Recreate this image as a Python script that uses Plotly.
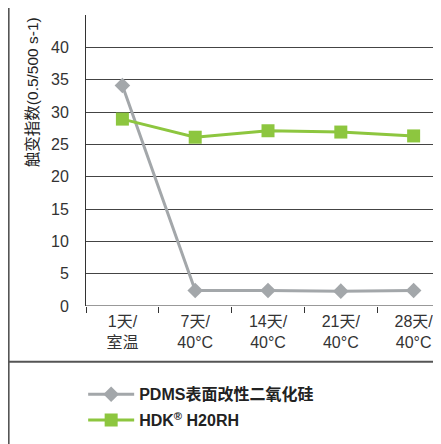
import plotly.graph_objects as go

categories = ["1天/<br>室温", "7天/<br>40°C", "14天/<br>40°C", "21天/<br>40°C", "28天/<br>40°C"]
pdms = [34.1, 2.4, 2.4, 2.3, 2.4]
hdk = [28.9, 26.1, 27.1, 26.9, 26.3]
y_ticks = [0, 5, 10, 15, 20, 25, 30, 35, 40]

FONT = "Liberation Sans, Arial, Noto Sans CJK SC, sans-serif"

fig = go.Figure()
fig.add_trace(go.Scatter(
    x=categories, y=pdms, mode="lines+markers", name="<b>PDMS表面改性二氧化硅</b>",
    line=dict(color="#a3a7aa", width=3),
    marker=dict(symbol="diamond", size=12, color="#a3a7aa"),
    cliponaxis=False, legendgroup="a",
))
fig.add_trace(go.Scatter(
    x=categories, y=hdk, mode="lines+markers", name="<b>HDK<sup>®</sup> H20RH</b>",
    line=dict(color="#8dc63f", width=3),
    marker=dict(symbol="square", size=13, color="#8dc63f"),
    cliponaxis=False, legendgroup="b",
))

fig.update_layout(
    width=433, height=436,
    margin=dict(l=78, r=0, t=7, b=138),
    paper_bgcolor="white", plot_bgcolor="white",
    font=dict(family=FONT, size=16, color="#333333"),
    showlegend=True,
    legend=dict(
        x=-0.008, y=-0.245, xanchor="left", yanchor="top",
        font=dict(size=16, color="#222222"),
        traceorder="grouped", tracegroupgap=2, itemwidth=46,
        bgcolor="rgba(0,0,0,0)",
    ),
    xaxis=dict(
        type="category", range=[-0.5, 4.376],
        tickson="boundaries", ticks="outside", ticklen=6, tickcolor="#333",
        showline=False, showgrid=False, zeroline=False,
        tickfont=dict(size=16, color="#333333"), ticklabelstandoff=4,
    ),
    yaxis=dict(
        range=[0, 45], tickvals=y_ticks,
        showline=True, linecolor="#333", linewidth=1,
        showgrid=True, gridcolor="#444444", gridwidth=1,
        zeroline=False, ticks="", ticklabelstandoff=13,
        tickfont=dict(size=16, color="#333333"),
    ),
    annotations=[dict(
        text="触变指数(0.5/500 s-1)", xref="paper", yref="paper",
        x=-0.152, y=0.735, textangle=-90, showarrow=False,
        font=dict(size=15.5, color="#222222"), xanchor="center", yanchor="middle",
    )],
    shapes=[
        dict(type="line", xref="paper", yref="paper", x0=-0.218, x1=-0.218, y0=-0.53, y1=1.06,
             line=dict(color="#555", width=2)),
        dict(type="line", xref="paper", yref="paper", x0=-0.22, x1=1.0, y0=-0.192, y1=-0.192,
             line=dict(color="#555", width=2)),
        dict(type="line", xref="paper", yref="y", x0=0, x1=1, y0=0, y1=0,
             line=dict(color="#333", width=1)),
    ],
)

fig.write_html("out.html")
